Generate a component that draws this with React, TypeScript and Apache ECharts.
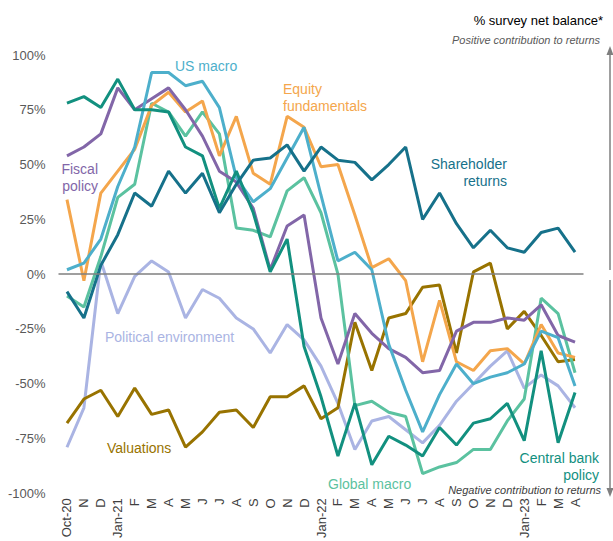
import React, { useEffect, useRef } from "react";
import * as echarts from "echarts";

const categories = ["Oct-20", "N", "D", "Jan-21", "F", "M", "A", "M", "J", "J", "A", "S", "O", "N", "D", "Jan-22", "F", "M", "A", "M", "J", "J", "A", "S", "O", "N", "D", "Jan-23", "F", "M", "A"];
const yTicks = [-100, -75, -50, -25, 0, 25, 50, 75, 100];

const centralBank = [78, 81, 76, 89, 75, 75, 74, 58, 54, 30, 47, 28, 1, 16, -33, -56, -83, -59, -87, -74, -78, -83, -70, -78, -68, -66, -59, -76, -35, -77, -54];
const shareholder = [-8, -20, 4, 18, 37, 31, 47, 37, 46, 28, 41, 52, 53, 59, 47, 58, 52, 51, 43, 50, 58, 25, 37, 23, 12, 20, 12, 10, 19, 21, 10];
const usMacro = [2, 5, 16, 40, 58, 92, 92, 86, 88, 76, 44, 33, 39, 53, 67, 36, 6, 10, 2, -32, -53, -72, -55, -41, -50, -47, -45, -41, -26, -29, -51];
const equity = [34, -3, 37, 47, 57, 77, 83, 74, 79, 54, 72, 46, 41, 72, 67, 49, 50, 27, 3, 7, -3, -40, -12, -40, -44, -35, -34, -41, -23, -36, -38];
const fiscal = [54, 58, 64, 85, 75, 80, 85, 75, 63, 47, 42, 30, 2, 22, 27, -20, -41, -18, -27, -34, -38, -45, -44, -26, -22, -22, -20, -21, -14, -28, -31];
const globalMacro = [-10, -15, 8, 35, 41, 78, 74, 63, 74, 64, 21, 20, 17, 38, 44, 28, 0, -60, -58, -63, -65, -91, -88, -86, -80, -80, -67, -57, -11, -18, -45];
const political = [-79, -61, 6, -18, -1, 6, 1, -20, -7, -11, -20, -25, -36, -23, -30, -42, -59, -80, -67, -65, -71, -77, -69, -58, -50, -42, -35, -52, -46, -51, -61];
const valuations = [-68, -57, -53, -65, -52, -64, -62, -79, -72, -63, -62, -70, -56, -56, -51, -66, -61, -22, -44, -20, -18, -6, -5, -36, 1, 5, -25, -17, -28, -40, -39];

const seriesDefs = [
  { name: "Political environment", data: political, color: "#AAB4E3" },
  { name: "Valuations", data: valuations, color: "#987300" },
  { name: "Global macro", data: globalMacro, color: "#5BC2A0" },
  { name: "Equity fundamentals", data: equity, color: "#F4A64C" },
  { name: "Fiscal policy", data: fiscal, color: "#8266A8" },
  { name: "US macro", data: usMacro, color: "#4DAFCB" },
  { name: "Central bank policy", data: centralBank, color: "#12907F" },
  { name: "Shareholder returns", data: shareholder, color: "#16718A" },
];

const FONT = "Liberation Sans, Arial, sans-serif";

export default function App() {
  const ref = useRef<HTMLDivElement>(null);
  useEffect(() => {
    document.body.style.margin = "0";
    if (!ref.current) return;
    const chart = echarts.init(ref.current, null, { renderer: "svg" });
    const label = (text: string, x: number, y: number, color: string, align: string = "left") => ({
      type: "text",
      x,
      y,
      style: { text, fill: color, font: `14px ${FONT}`, textAlign: align, textVerticalAlign: "middle", lineHeight: 17 },
      silent: true,
    });
    const gray = "#7F7F7F";
    chart.setOption({
      animation: false,
      textStyle: { fontFamily: FONT },
      grid: { left: 58.5, right: 29.5, top: 55, bottom: 46, containLabel: false },
      xAxis: {
        type: "category",
        data: categories,
        boundaryGap: true,
        axisLine: { show: false },
        axisTick: { show: false },
        axisLabel: { rotate: 90, color: "#404040", fontSize: 13, margin: 5, interval: 0, fontFamily: FONT },
        splitLine: { show: false },
      },
      yAxis: {
        type: "value",
        min: yTicks[0],
        max: yTicks[yTicks.length - 1],
        interval: 25,
        axisLine: { show: false },
        axisTick: { show: false },
        splitLine: { show: false },
        axisLabel: { color: "#595959", fontSize: 13, margin: 13, fontFamily: FONT, formatter: (v: number) => `${v}%` },
      },
      series: seriesDefs.map((s, i) => ({
        name: s.name,
        type: "line",
        data: s.data,
        showSymbol: false,
        symbol: "none",
        lineStyle: { color: s.color, width: 3 },
        itemStyle: { color: s.color },
        z: 3,
        markLine:
          i === 0
            ? {
                silent: true,
                symbol: ["none", "none"],
                label: { show: false },
                lineStyle: { color: gray, width: 1.5, type: "solid" },
                data: [{ yAxis: 0 }],
              }
            : undefined,
      })),
      graphic: [
        { type: "text", right: 10, top: 14, style: { text: "% survey net balance*", fill: "#000", font: `13px ${FONT}` }, silent: true },
        { type: "text", right: 13, top: 34, style: { text: "Positive contribution to returns", fill: "#595959", font: `italic 11px ${FONT}` }, silent: true },
        { type: "text", right: 12, top: 484, style: { text: "Negative contribution to returns", fill: "#404040", font: `italic 11px ${FONT}` }, silent: true },
        { type: "line", shape: { x1: 610, y1: 54, x2: 610, y2: 270 }, style: { stroke: gray, lineWidth: 1.5 }, silent: true },
        { type: "polygon", shape: { points: [[610, 46], [606.5, 55], [613.5, 55]] }, style: { fill: gray }, silent: true },
        { type: "line", shape: { x1: 610, y1: 280, x2: 610, y2: 488 }, style: { stroke: gray, lineWidth: 1.5 }, silent: true },
        { type: "polygon", shape: { points: [[610, 497], [606.5, 488], [613.5, 488]] }, style: { fill: gray }, silent: true },
        label("US macro", 175, 66, "#4DAFCB"),
        label("Equity\nfundamentals", 283, 97, "#F4A64C"),
        label("Fiscal\npolicy", 98, 177, "#8266A8", "right"),
        label("Shareholder\nreturns", 507, 172, "#16718A", "right"),
        label("Political environment", 105, 337, "#AAB4E3"),
        label("Valuations", 107, 448, "#987300"),
        label("Global macro", 328, 484, "#5BC2A0"),
        label("Central bank\npolicy", 599, 466, "#12907F", "right"),
      ],
    });
    return () => chart.dispose();
  }, []);
  return <div ref={ref} style={{ width: 613, height: 541 }} />;
}
